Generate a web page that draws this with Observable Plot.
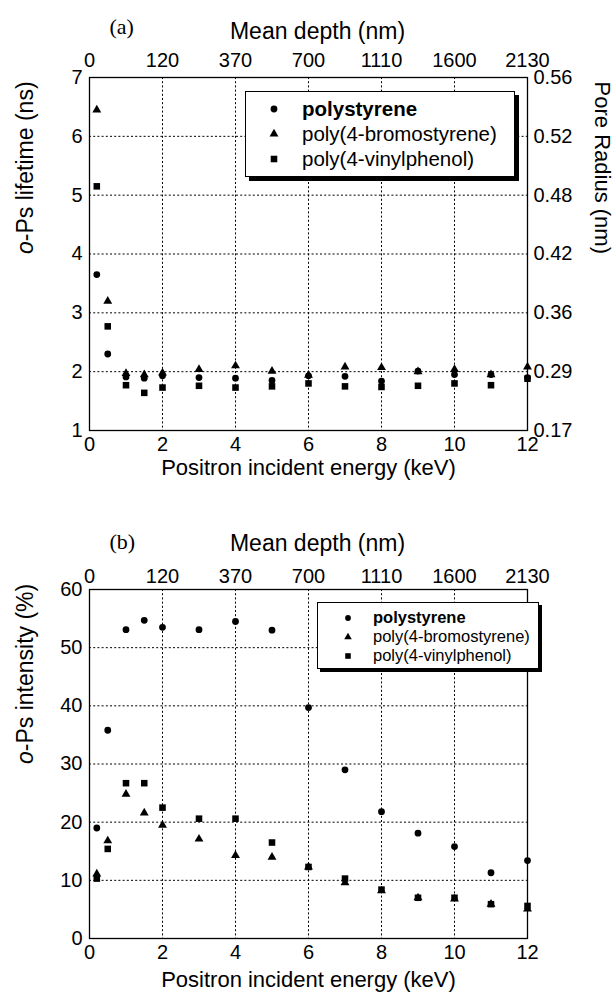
<!DOCTYPE html>
<html>
<head>
<meta charset="utf-8">
<script src="https://cdn.jsdelivr.net/npm/d3@7"></script>
<script src="https://cdn.jsdelivr.net/npm/@observablehq/plot@0.6"></script>
<style>
  html, body { margin: 0; padding: 0; background: #fff; }
  body { width: 616px; font-family: "Liberation Sans", Arial, sans-serif; }
  .panel { position: relative; width: 616px; }
  .legend { position: absolute; background: #fff; border: 1.5px solid #000; box-sizing: border-box; }
  .legend .row { position: absolute; left: 0; white-space: nowrap; color: #000; }
  .legend svg { position: absolute; overflow: visible; }
</style>
</head>
<body>
<div id="a" class="panel"></div>
<div id="b" class="panel"></div>
<script>
// ---- data ----
const energy = [0.2, 0.5, 1, 1.5, 2, 3, 4, 5, 6, 7, 8, 9, 10, 11, 12];
const seriesNames = ["polystyrene", "poly(4-bromostyrene)", "poly(4-vinylphenol)"];

// panel (a): o-Ps lifetime (ns)
const psLife  = [3.65, 2.30, 1.91, 1.89, 1.93, 1.90, 1.89, 1.85, 1.93, 1.92, 1.84, 2.01, 1.95, 1.95, 1.90];
const pbsLife = [6.45, 3.20, 1.97, 1.95, 1.98, 2.04, 2.10, 2.01, 1.94, 2.08, 2.07, 2.00, 2.04, 1.95, 2.08];
const pvpLife = [5.15, 2.77, 1.77, 1.64, 1.73, 1.76, 1.73, 1.75, 1.80, 1.75, 1.74, 1.76, 1.80, 1.77, 1.88];

// panel (b): o-Ps intensity (%)
const psInt  = [19.0, 35.8, 53.1, 54.7, 53.5, 53.1, 54.5, 53.0, 39.7, 29.0, 21.8, 18.1, 15.8, 11.3, 13.4];
const pbsInt = [11.1, 16.8, 24.8, 21.6, 19.5, 17.1, 14.3, 14.0, 12.3, 9.6, 8.2, 7.0, 6.8, 5.9, 5.1];
const pvpInt = [10.3, 15.4, 26.7, 26.7, 22.5, 20.6, 20.6, 16.5, 12.3, 10.3, 8.4, 7.0, 7.0, 5.9, 5.6];

// tick labels
const energyTicks = [0, 2, 4, 6, 8, 10, 12];
const depthLabels = ["0", "120", "370", "700", "1110", "1600", "2130"];
const lifeTicks = [1, 2, 3, 4, 5, 6, 7];
const poreLabels = ["0.17", "0.29", "0.36", "0.42", "0.48", "0.52", "0.56"];
const intTicks = [0, 10, 20, 30, 40, 50, 60];

// ---- helpers ----
const depthMap = new Map(energyTicks.map((t, i) => [t, depthLabels[i]]));
const poreMap = new Map(lifeTicks.map((t, i) => [t, poreLabels[i]]));
const symbols = ["circle", "triangle", "square"];
const symR = {circle: 3.4, triangle: 3.3, square: 3.7};
const FONT = "'Liberation Sans', Arial, sans-serif";

function rows(vals) { return energy.map((e, i) => ({E: e, v: vals[i]})); }
const grid = {stroke: "black", strokeOpacity: 1, strokeWidth: 1, strokeDasharray: "2,2.2"};

function dots(seriesVals) {
  return seriesVals.map((vals, k) =>
    Plot.dot(rows(vals), {x: "E", y: "v", symbol: () => symbols[k], r: symR[symbols[k]], fill: "black", stroke: "none"})
  );
}

function makePanel(opt) {
  const marks = [
    Plot.gridX(energyTicks.slice(1, -1), grid),
    Plot.gridY(opt.yGrid, grid),
    Plot.frame({stroke: "black", strokeWidth: 1.3}),
    Plot.axisX(energyTicks, {anchor: "bottom", tickSize: 0, tickPadding: 6, label: null, fontSize: 20,
      tickFormat: d => String(d)}),
    Plot.axisX(energyTicks, {anchor: "top", tickSize: 0, tickPadding: opt.topPad, label: null, fontSize: 20,
      tickFormat: d => depthMap.get(d)}),
    Plot.axisY(opt.yTicks, {anchor: "left", tickSize: 0, tickPadding: 7, label: null, fontSize: 20,
      tickFormat: d => String(d)}),
    ...dots(opt.series),
    Plot.text(["Positron incident energy (keV)"], {frameAnchor: "bottom", dy: opt.xTitleDy, fontSize: 22, fill: "black"}),
    Plot.text(["Mean depth (nm)"], {frameAnchor: "top", dx: 9, dy: opt.topTitleDy, fontSize: 23, fill: "black"}),
    Plot.text([opt.tag], {frameAnchor: "top-left", dx: 20, dy: opt.tagDy, fontSize: 22, fill: "black",
      fontFamily: "'Liberation Serif', 'Times New Roman', serif"}),
    Plot.text([opt.yTitle], {frameAnchor: "left", dx: -64, rotate: -90, fontSize: 23, fill: "black"})
  ];
  if (opt.right) {
    marks.push(Plot.axisY(lifeTicks, {anchor: "right", tickSize: 0, tickPadding: 6, label: null, fontSize: 20,
      tickFormat: d => poreMap.get(d)}));
    marks.push(Plot.text(["Pore Radius (nm)"], {frameAnchor: "right", dx: 75, rotate: 90, fontSize: 22, fill: "black"}));
  }
  const svg = Plot.plot({
    width: 616, height: opt.height,
    marginLeft: 89, marginRight: 89, marginTop: opt.mt, marginBottom: opt.mb,
    style: {fontFamily: FONT, fontSize: "20px", color: "black", background: "white", overflow: "visible"},
    x: {domain: [0, 12]},
    y: {domain: opt.yDomain},
    marks
  });
  // italic "o" in y title
  d3.select(svg).selectAll("text").filter(function() { return this.textContent === opt.yTitle; })
    .each(function() {
      const t = d3.select(this);
      t.text(null);
      t.append("tspan").attr("font-style", "italic").text("o");
      t.append("tspan").text(opt.yTitle.slice(1));
    });
  return svg;
}

function makeLegend(container, L) {
  const div = document.createElement("div");
  div.className = "legend";
  Object.assign(div.style, {left: L.left + "px", top: L.top + "px", width: L.w + "px", height: L.h + "px",
    boxShadow: `${L.sh}px ${L.sh}px 0 #000`});
  seriesNames.forEach((name, k) => {
    const cy = L.row0 + k * L.dy;
    const ns = "http://www.w3.org/2000/svg";
    const s = document.createElementNS(ns, "svg");
    s.setAttribute("width", 12); s.setAttribute("height", 12);
    s.style.left = (L.mx - 6) + "px"; s.style.top = (cy - 6) + "px";
    const p = document.createElementNS(ns, "path");
    const typ = {circle: d3.symbolCircle, triangle: d3.symbolTriangle, square: d3.symbolSquare}[symbols[k]];
    const r = symR[symbols[k]] * L.ms;
    p.setAttribute("d", d3.symbol(typ, Math.PI * r * r)());
    p.setAttribute("transform", "translate(6,6)");
    s.appendChild(p);
    div.appendChild(s);
    const t = document.createElement("div");
    t.className = "row";
    t.textContent = name;
    Object.assign(t.style, {left: L.tx + "px", top: (cy - L.fs * 0.6) + "px", fontSize: L.fs + "px",
      lineHeight: (L.fs * 1.2) + "px", fontWeight: k === 0 ? "bold" : "normal"});
    div.appendChild(t);
  });
  container.appendChild(div);
}

const A = document.getElementById("a");
A.appendChild(makePanel({
  height: 500, mt: 77, mb: 70, yDomain: [1, 7], yTicks: lifeTicks, yGrid: [2, 3, 4, 5, 6],
  series: [psLife, pbsLife, pvpLife], right: true, topPad: 11,
  xTitleDy: 44, topTitleDy: -55, tag: "(a)", tagDy: -59, yTitle: "o-Ps lifetime (ns)"
}));
makeLegend(A, {left: 245, top: 91, w: 270, h: 86, sh: 4, mx: 28, tx: 56, row0: 17, dy: 25, fs: 20.5, ms: 1});

const B = document.getElementById("b");
B.appendChild(makePanel({
  height: 501, mt: 89, mb: 63, yDomain: [0, 60], yTicks: intTicks, yGrid: [10, 20, 30, 40, 50],
  series: [psInt, pbsInt, pvpInt], right: false, topPad: 7,
  xTitleDy: 48, topTitleDy: -55, tag: "(b)", tagDy: -56, yTitle: "o-Ps intensity (%)"
}));
makeLegend(B, {left: 317, top: 102, w: 222, h: 67, sh: 3, mx: 30, tx: 55, row0: 15, dy: 19, fs: 16.5, ms: 0.85});
</script>
</body>
</html>
